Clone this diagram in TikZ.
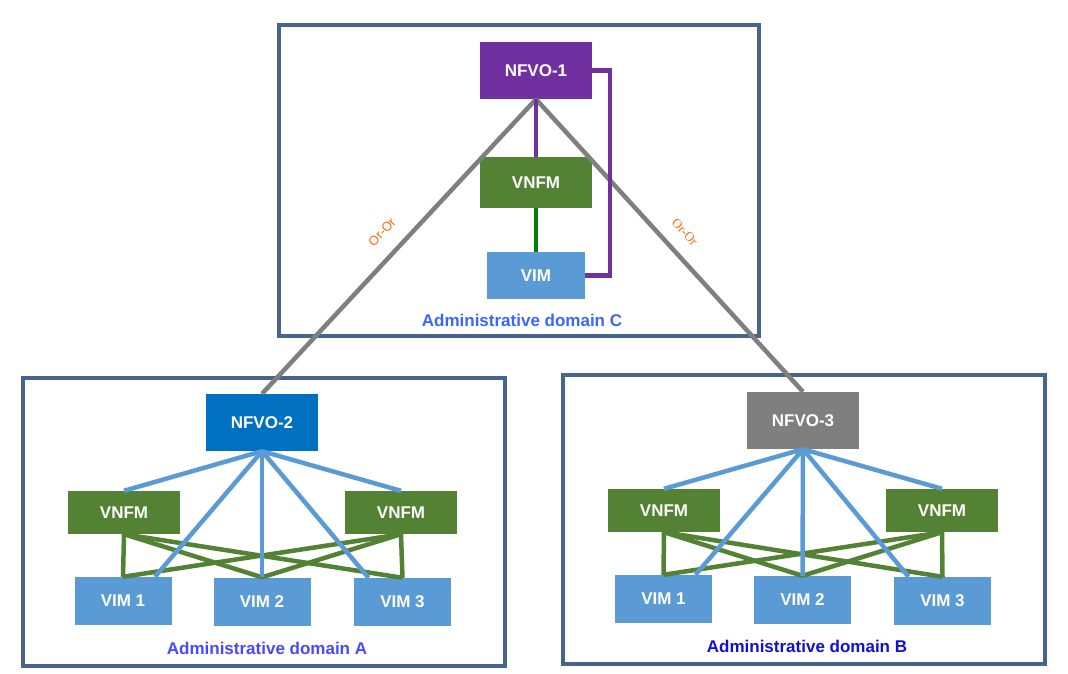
\documentclass[tikz,border=0pt]{standalone}
\usepackage{fontspec}
\setmainfont{Liberation Sans}
\newfontfamily\orserif{Liberation Serif}
\usetikzlibrary{positioning}

\definecolor{nfvopurple}{HTML}{7030A0}
\definecolor{nfvoblue}{HTML}{0070C0}
\definecolor{nfvogray}{HTML}{7F7F7F}
\definecolor{vnfmgreen}{HTML}{548235}
\definecolor{vimblue}{HTML}{5B9BD5}
\definecolor{domainframe}{HTML}{46648C}
\definecolor{orange}{HTML}{FF6600}

\begin{document}
\begin{tikzpicture}[x=1pt, y=-1pt,
        box/.style={rectangle, inner sep=0pt, text=white, font=\fontsize{17}{19}\selectfont\bfseries},
        nfvo/.style={box, minimum width=112, minimum height=57},
        vnfm/.style={box, fill=vnfmgreen, minimum width=112, minimum height=43},
        vim/.style={box, fill=vimblue, minimum width=97, minimum height=48},
        domainbox/.style={draw=domainframe, line width=3.5pt, inner sep=0pt},
        domlabel/.style={font=\fontsize{17}{19}\selectfont\bfseries},
        orlabel/.style={text=orange, font=\fontsize{13}{15}\selectfont},
        connline/.style={line width=4.5pt}]
        \useasboundingbox (0, 0) rectangle (1068, 674);

        % domain boxes
        \node[domainbox, minimum width=480, minimum height=311] at (519, 180.5)(domc){};
        \node[domainbox, minimum width=482, minimum height=288] at (264, 522)(doma){};
        \node[domainbox, minimum width=482, minimum height=289] at (804, 519.5)(domb){};

        % domain C
        \node[nfvo, fill=nfvopurple] at (536, 70.5)(nfvoa){NFVO-1};
        \node[vnfm, minimum height=51] at (536, 182.5)(vnfmc){VNFM};
        \node[vim, minimum width=98, minimum height=47] at (536, 275.5)(vimc){VIM};
        \node[domlabel, text={rgb,255:red,58;green,102;blue,255}] at (522, 320)(labc){Administrative domain C};

        % domain A
        \node[nfvo, fill=nfvoblue] at (262, 422.5)(nfvob){NFVO-2};
        \node[vnfm] at (124, 512.5)(vnfma1){VNFM};
        \node[vnfm] at (401, 512.5)(vnfma2){VNFM};
        \node[vim] at (123, 601)(vima1){VIM 1};
        \node[vim] at (262, 601.5)(vima2){VIM 2};
        \node[vim] at (402.5, 602)(vima3){VIM 3};
        \node[domlabel, text={rgb,255:red,72;green,72;blue,255}] at (267, 648)(laba){Administrative domain A};

        % domain B
        \node[nfvo, fill=nfvogray] at (803, 420.5)(nfvoc){NFVO-3};
        \node[vnfm] at (664, 510.5)(vnfmb1){VNFM};
        \node[vnfm] at (942, 510.5)(vnfmb2){VNFM};
        \node[vim] at (663.5, 599)(vimb1){VIM 1};
        \node[vim] at (802.5, 600)(vimb2){VIM 2};
        \node[vim] at (942.5, 601)(vimb3){VIM 3};
        \node[domlabel, text={rgb,255:red,16;green,16;blue,208}] at (807, 646)(labb){Administrative domain B};

        % Or-Or links
        \draw[connline, draw=nfvogray] (nfvoa.south) -- (nfvob.north);
        \draw[connline, draw=nfvogray] (nfvoa.south) -- (nfvoc.north);
        \node[orlabel, rotate=47] at (382, 232)(ora){Or-Or};
        \node[orlabel, rotate=-47, font=\orserif\fontsize{13}{15}\selectfont] at (685, 232)(orb){Or-Or};

        % inside C
        \draw[connline, draw=nfvopurple] (nfvoa.south) -- (vnfmc.north);
        \draw[connline, draw=nfvopurple] (nfvoa.east) -- ++(18, 0) |- (vimc.east);
        \draw[connline, draw={rgb,255:red,0;green,128;blue,0}] (vnfmc.south) -- (vimc.north);

        % inside A
        \path[draw=vnfmgreen, connline]
        (vnfma1.south)edge (vima1.north)
        (vnfma1.south)edge (vima2.north)
        (vnfma1.south)edge (vima3.north)
        (vnfma2.south)edge (vima1.north)
        (vnfma2.south)edge (vima2.north)
        (vnfma2.south)edge (vima3.north)
        ;
        \path[draw=vimblue, connline]
        (nfvob.south)edge (vnfma1.north)
        (nfvob.south)edge (vnfma2.north)
        (nfvob.south)edge ([xshift=32pt]vima1.north)
        (nfvob.south)edge (vima2.north)
        (nfvob.south)edge ([xshift=-34pt]vima3.north)
        ;

        % inside B
        \path[draw=vnfmgreen, connline]
        (vnfmb1.south)edge (vimb1.north)
        (vnfmb1.south)edge (vimb2.north)
        (vnfmb1.south)edge (vimb3.north)
        (vnfmb2.south)edge (vimb1.north)
        (vnfmb2.south)edge (vimb2.north)
        (vnfmb2.south)edge (vimb3.north)
        ;
        \path[draw=vimblue, connline]
        (nfvoc.south)edge (vnfmb1.north)
        (nfvoc.south)edge (vnfmb2.north)
        (nfvoc.south)edge ([xshift=32pt]vimb1.north)
        (nfvoc.south)edge (vimb2.north)
        (nfvoc.south)edge ([xshift=-34pt]vimb3.north)
        ;
    \end{tikzpicture}
\end{document}
